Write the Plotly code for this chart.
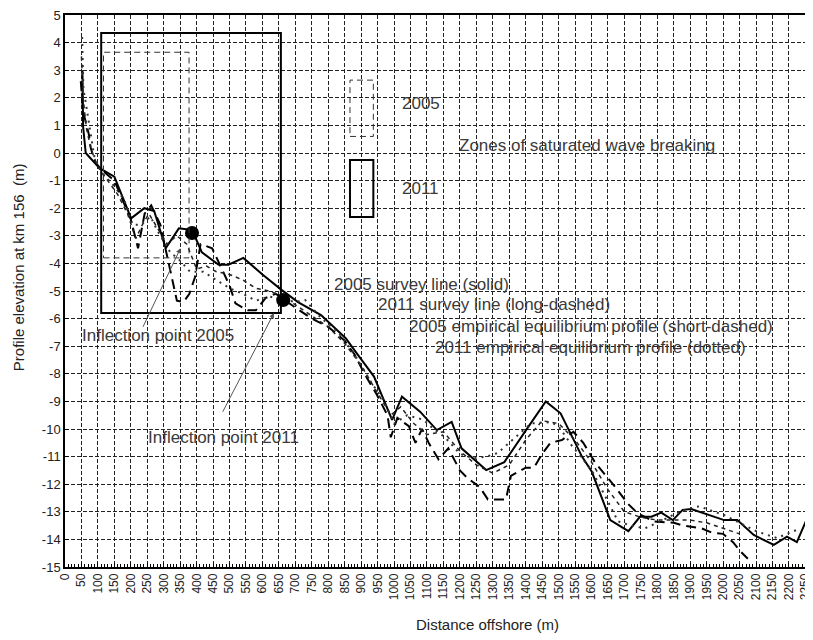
import plotly.graph_objects as go

# ---------------- data ----------------
survey_2005_x = [53, 55, 63, 105, 150, 201, 241, 271, 306, 346, 386, 416, 467, 497, 542, 600, 658, 708, 778, 853, 894, 939, 994, 1024, 1079, 1130, 1175, 1205, 1280, 1335, 1400, 1461, 1506, 1571, 1601, 1657, 1712, 1747, 1782, 1812, 1847, 1877, 1903, 2003, 2043, 2093, 2154, 2194, 2224, 2262]
survey_2005_y = [3.0, 0.95, 0.0, -0.55, -0.86, -2.37, -2.0, -2.1, -3.45, -2.73, -2.79, -3.6, -4.05, -4.05, -3.8, -4.4, -4.96, -5.4, -5.87, -6.71, -7.38, -8.1, -9.67, -8.83, -9.37, -10.04, -9.74, -10.7, -11.49, -11.2, -10.06, -9.0, -9.43, -11.0, -11.55, -13.3, -13.7, -13.18, -13.18, -13.03, -13.3, -12.93, -12.9, -13.3, -13.3, -13.84, -14.2, -13.9, -14.1, -13.05]

survey_2011_x = [48, 55, 72, 78, 90, 110, 150, 200, 222, 242, 262, 290, 306, 325, 340, 360, 378, 395, 412, 447, 482, 500, 518, 555, 580, 610, 640, 663, 700, 750, 800, 850, 880, 910, 945, 980, 990, 1010, 1045, 1065, 1085, 1105, 1135, 1165, 1200, 1225, 1260, 1285, 1340, 1355, 1400, 1425, 1450, 1475, 1510, 1545, 1575, 1610, 1665, 1710, 1740, 1790, 1850, 1880, 1935, 1965, 2000, 2030, 2050, 2075]
survey_2011_y = [2.6, 1.5, 0.7, 0.2, -0.3, -0.6, -1.0, -2.4, -3.45, -2.2, -1.9, -2.6, -3.5, -4.6, -5.35, -5.4, -5.1, -4.5, -3.3, -3.45, -4.35, -4.8, -5.45, -5.7, -5.7, -5.25, -5.1, -5.3, -5.6, -6.0, -6.3, -6.8, -7.3, -8.0, -8.7, -9.5, -10.3, -9.6, -9.9, -10.5, -10.0, -10.5, -11.1, -10.7, -11.5, -11.8, -12.1, -12.55, -12.55, -11.7, -11.4, -11.4, -10.9, -10.5, -10.4, -10.1, -10.5, -11.2, -12.0, -12.7, -13.05, -13.35, -13.4, -13.5, -13.6, -13.75, -13.8, -14.1, -14.4, -14.7]

equil_2005_x = [50, 55, 65, 80, 100, 130, 160, 190, 215, 235, 255, 280, 310, 340, 370, 400, 430, 460, 500, 540, 580, 620, 663, 700, 750, 800, 850, 900, 950, 990, 1020, 1060, 1100, 1150, 1200, 1250, 1300, 1350, 1400, 1450, 1500, 1550, 1600, 1650, 1700, 1750, 1800, 1850, 1900, 1950, 2000, 2050]
equil_2005_y = [3.5, 2.0, 0.9, 0.1, -0.5, -1.0, -1.5, -2.2, -3.1, -2.6, -2.2, -2.7, -3.3, -3.0, -3.3, -4.2, -4.1, -4.3, -4.4, -4.6, -4.9, -5.0, -5.2, -5.5, -5.9, -6.3, -6.9, -7.7, -8.7, -9.5, -9.2, -9.8, -10.2, -10.1, -10.8, -11.3, -11.6, -11.3, -10.4, -9.7, -9.8, -10.4, -11.2, -12.2, -13.0, -13.2, -13.3, -13.3, -13.3, -13.4, -13.6, -13.8]

equil_2011_x = [52, 53, 56, 62, 70, 78, 90, 118, 150, 180, 205, 230, 260, 280, 300, 320, 350, 380, 420, 460, 500, 540, 580, 620, 663, 700, 730, 780, 830, 880, 930, 970, 1000, 1040, 1090, 1120, 1155, 1200, 1240, 1280, 1315, 1370, 1416, 1476, 1500, 1540, 1601, 1642, 1681, 1720, 1762, 1800, 1850, 1890, 1928, 1973, 2000, 2050, 2100, 2163, 2214, 2235]
equil_2011_y = [4.2, 3.2, 2.3, 1.9, 1.3, 0.6, -0.2, -0.8, -1.2, -1.7, -2.6, -2.6, -2.3, -2.8, -3.2, -3.6, -3.9, -4.3, -4.3, -4.6, -4.9, -5.1, -5.35, -5.2, -5.3, -5.4, -5.33, -6.0, -6.5, -7.3, -8.3, -9.0, -9.8, -9.5, -9.67, -10.0, -10.3, -10.9, -11.06, -11.0, -10.87, -10.28, -9.8, -9.75, -9.9, -10.6, -11.5, -12.45, -13.35, -13.5, -13.6, -13.4, -13.1, -12.9, -12.8, -13.0, -13.1, -13.4, -13.7, -13.95, -13.7, -13.6]

inflection_x = [386, 663]
inflection_y = [-2.9, -5.33]

x_ticks = list(range(0, 2251, 50))
y_ticks = list(range(-15, 6, 1))

TXT = "#3a3a3a"
FONT = "Liberation Sans, Arial, sans-serif"

fig = go.Figure()
fig.add_trace(go.Scatter(x=survey_2005_x, y=survey_2005_y, mode="lines",
                         line=dict(color="black", width=2), name="2005 survey"))
fig.add_trace(go.Scatter(x=survey_2011_x, y=survey_2011_y, mode="lines",
                         line=dict(color="black", width=2, dash="10px,6px"), name="2011 survey"))
fig.add_trace(go.Scatter(x=equil_2005_x, y=equil_2005_y, mode="lines",
                         line=dict(color="#222", width=1.5, dash="4px,4px"), name="2005 equilibrium"))
fig.add_trace(go.Scatter(x=equil_2011_x, y=equil_2011_y, mode="lines",
                         line=dict(color="#333", width=2, dash="2px,5px"), name="2011 equilibrium"))
fig.add_trace(go.Scatter(x=inflection_x, y=inflection_y, mode="markers",
                         marker=dict(color="black", size=14), name="Inflection points"))

# zones of saturated wave breaking
fig.add_shape(type="rect", xref="x", yref="y", x0=110, x1=656, y0=-5.8, y1=4.35,
              line=dict(color="black", width=2))
fig.add_shape(type="rect", xref="x", yref="y", x0=117, x1=377, y0=-3.8, y1=3.65,
              line=dict(color="#333", width=1, dash="6px,4px"))
# legend boxes
fig.add_shape(type="rect", xref="x", yref="y", x0=866, x1=937, y0=0.6, y1=2.64,
              line=dict(color="#333", width=1, dash="6px,4px"))
fig.add_shape(type="rect", xref="x", yref="y", x0=866, x1=937, y0=-2.32, y1=-0.25,
              line=dict(color="black", width=2))

texts = [
    ("2005", 1018, 1.81),
    ("2011", 1018, -1.27),
    ("Zones of saturated wave breaking", 1190, 0.29),
    ("2005 survey line (solid)", 810, -4.78),
    ("2011 survey line (long-dashed)", 946, -5.5),
    ("2005 empirical equilibrium profile (short-dashed)", 1039, -6.27),
    ("2011 empirical equilibrium profile (dotted)", 1117, -7.03),
    ("Inflection point 2005", 45, -6.63),
    ("Inflection point 2011", 247, -10.29),
]
for t, x, y in texts:
    fig.add_annotation(x=x, y=y, text=t, showarrow=False, xanchor="left", yanchor="middle",
                       font=dict(family=FONT, size=17, color=TXT))

# arrows
fig.add_annotation(x=351, y=-3.45, ax=235, ay=-6.35, xref="x", yref="y", axref="x", ayref="y",
                   showarrow=True, arrowhead=2, arrowsize=1, arrowwidth=1, arrowcolor="#555", text="")
fig.add_annotation(x=635, y=-5.8, ax=477, ay=-9.43, xref="x", yref="y", axref="x", ayref="y",
                   showarrow=True, arrowhead=2, arrowsize=1, arrowwidth=1, arrowcolor="#555", text="")

# axis titles
fig.add_annotation(x=0.565, y=-0.105, xref="paper", yref="paper", text="Distance offshore (m)",
                   showarrow=False, xanchor="center", yanchor="middle",
                   font=dict(family=FONT, size=15, color="#222"))
fig.add_annotation(x=-0.063, y=0.543, xref="paper", yref="paper", text="Profile elevation at km 156  (m)",
                   showarrow=False, xanchor="center", yanchor="middle", textangle=-90,
                   font=dict(family=FONT, size=15, color="#222"))

# page body adds an 8px offset; size/margins compensate for it
fig.update_layout(
    width=805, height=632,
    margin=dict(l=57, r=1, t=7, b=73),
    paper_bgcolor="white", plot_bgcolor="white",
    showlegend=False,
    font=dict(family=FONT, color="#222"),
)
fig.update_xaxes(
    range=[0, 2270], tickmode="array", tickvals=x_ticks, ticktext=[str(v) for v in x_ticks],
    tickangle=-90, tickfont=dict(size=12, family=FONT, color="#222"),
    ticklabeloverflow="allow",
    showgrid=True, gridcolor="#222", gridwidth=1, griddash="4px,2px",
    showline=True, linecolor="black", linewidth=1.5, mirror=True,
    ticks="inside", ticklen=4, tickcolor="black",
    minor=dict(ticks="inside", ticklen=3, dtick=10, tickcolor="black", showgrid=False),
    zeroline=False, automargin=False,
)
fig.update_yaxes(
    range=[-15, 5], tickmode="array", tickvals=y_ticks, ticktext=[str(v) for v in y_ticks],
    tickfont=dict(size=13, family=FONT, color="#222"),
    ticklabeloverflow="allow",
    showgrid=True, gridcolor="#222", gridwidth=1, griddash="4px,2px",
    showline=True, linecolor="black", linewidth=1.5, mirror=True,
    ticks="inside", ticklen=4, tickcolor="black",
    zeroline=False, automargin=False,
)

fig.write_html("out.html")
